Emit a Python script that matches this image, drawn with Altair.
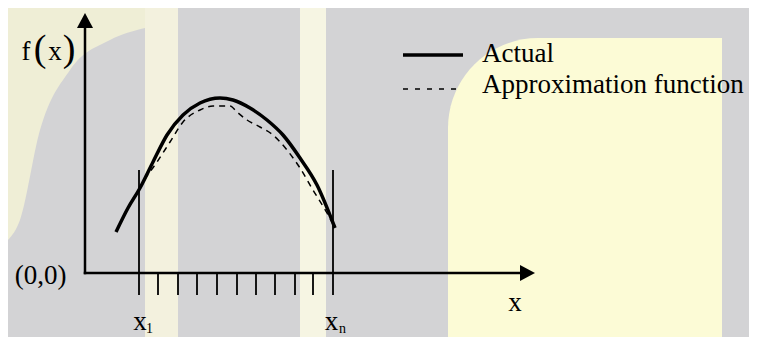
import altair as alt
import pandas as pd

# ---- data (origin of the diagram = (0,0)) ----
actual_x = [31, 43, 55, 68, 82, 98, 115, 135, 148, 165, 182, 198, 215, 232, 250]
actual_y = [41, 65, 85, 111, 138, 158, 170, 175, 173, 165, 153, 138, 115, 88, 45]

approx_x = [54, 58, 72, 85, 98, 115, 128, 145, 152, 162, 175, 188, 202, 215, 228, 242, 250]
approx_y = [84, 91, 111, 131, 151, 163, 167, 167, 161, 153, 146, 138, 123, 105, 83, 60, 45]

# nodes x1 .. xn on the x axis
node_x = [54, 73, 93, 112, 132, 152, 171, 190, 210, 228, 248]
node_bottom = -22
boundary_top = 103      # height of the x1 / xn boundary lines

x_axis_end = 436
y_axis_end = 246
x_arrow = 442.5
y_arrow = 252.5

legend_labels = ["Actual", "Approximation function"]
legend_y = [218, 184]
legend_line_x = [318, 378]
legend_text_x = 397

FONT = "Liberation Serif"

xs = alt.Scale(domain=[-77, 664], nice=False, zero=False)
ys = alt.Scale(domain=[-64, 265], nice=False, zero=False)


def X(f):
    return alt.X(f, type="quantitative", scale=xs, axis=None)


def Y(f):
    return alt.Y(f, type="quantitative", scale=ys, axis=None)


# ---- watermark-like background ----
bands = pd.DataFrame({
    "x0": [60, 215], "x1": [93, 241],
    "y0": [-64, -64], "y1": [265, 265],
    "c": ["#f3f1de", "#f6f5e3"],
})
band_layer = alt.Chart(bands).mark_rect().encode(
    x=X("x0"), x2="x1", y=Y("y0"), y2="y1",
    color=alt.Color("c:N", scale=None))

panel = pd.DataFrame({"x0": [363], "x1": [637], "y0": [-64], "y1": [235]})
panel_layer = alt.Chart(panel).mark_rect(
    color="#fcfbd6", cornerRadiusTopLeft=90).encode(
    x=X("x0"), x2="x1", y=Y("y0"), y2="y1")

left_x = [-77, -65, -45, -15, 25, 60]
left_y = [33, 53, 143, 203, 233, 245]
left = pd.DataFrame({"x": left_x, "y": left_y, "top": [265] * len(left_x)})
left_layer = alt.Chart(left).mark_area(color="#efeed6", interpolate="monotone").encode(
    x=X("x"), y=Y("y"), y2="top")

# ---- curves ----
act = pd.DataFrame({"x": actual_x, "y": actual_y})
apx = pd.DataFrame({"x": approx_x, "y": approx_y})

actual_layer = alt.Chart(act).mark_line(
    color="black", strokeWidth=3.5, interpolate="monotone").encode(
    x=X("x"), y=Y("y"))
approx_layer = alt.Chart(apx).mark_line(
    color="black", strokeWidth=1.5, strokeDash=[6, 5], interpolate="monotone").encode(
    x=X("x"), y=Y("y"))

# ---- axes (with arrows), node ticks ----
axes = pd.DataFrame({
    "x": [0, 0], "x2": [x_axis_end, 0],
    "y": [0, 0], "y2": [0, y_axis_end],
})
axes_layer = alt.Chart(axes).mark_rule(
    color="black", strokeWidth=2.5, strokeCap="square").encode(
    x=X("x"), x2="x2", y=Y("y"), y2="y2")

ticks = pd.DataFrame({
    "x": node_x,
    "y": [node_bottom] * len(node_x),
    "y2": [boundary_top if i in (0, len(node_x) - 1) else 0 for i in range(len(node_x))],
})
ticks_layer = alt.Chart(ticks).mark_rule(color="black", strokeWidth=1.8).encode(
    x=X("x"), y=Y("y"), y2="y2")

up = pd.DataFrame({"x": [0], "y": [y_arrow]})
right = pd.DataFrame({"x": [x_arrow], "y": [0]})
up_layer = alt.Chart(up).mark_point(
    shape="M0,-1L1.07,1L-1.07,1Z", filled=True, color="black",
    size=225, opacity=1, strokeWidth=0).encode(x=X("x"), y=Y("y"))
right_layer = alt.Chart(right).mark_point(
    shape="M1,0L-1,1.07L-1,-1.07Z", filled=True, color="black",
    size=225, opacity=1, strokeWidth=0).encode(x=X("x"), y=Y("y"))

# ---- legend ----
leg_solid = pd.DataFrame({"x": [legend_line_x[0]], "x2": [legend_line_x[1]], "y": [legend_y[0]]})
leg_dash = pd.DataFrame({"x": [legend_line_x[0]], "x2": [legend_line_x[1]], "y": [legend_y[1]]})
leg_solid_layer = alt.Chart(leg_solid).mark_rule(color="black", strokeWidth=3.5).encode(
    x=X("x"), x2="x2", y=Y("y"))
leg_dash_layer = alt.Chart(leg_dash).mark_rule(
    color="black", strokeWidth=1.5, strokeDash=[5, 7]).encode(
    x=X("x"), x2="x2", y=Y("y"))

leg_text = pd.DataFrame({
    "t": legend_labels,
    "x": [legend_text_x] * 2,
    "y": [legend_y[0] - 7, legend_y[1] - 4],
})
leg_text_layer = alt.Chart(leg_text).mark_text(
    align="left", baseline="alphabetic", font=FONT, fontSize=27, color="black").encode(
    x=X("x"), y=Y("y"), text="t:N")

# ---- other labels ----
labels = pd.DataFrame({
    "t": ["f", "(", "x", ")", "(0,0)", "x", "x", "1", "x", "n"],
    "x": [-59, -45, -30, -16, -44.5, 430, 55, 64.5, 246.5, 257.5],
    "y": [213, 212, 213, 212, -11, -38, -57, -60, -57, -60],
    "s": [27, 38, 27, 38, 27, 27, 27, 14, 27, 14],
})
labels_layer = alt.Chart(labels).mark_text(
    align="center", baseline="alphabetic", font=FONT, color="black").encode(
    x=X("x"), y=Y("y"), text="t:N", size=alt.Size("s:Q", scale=None))

chart = alt.layer(
    left_layer, band_layer, panel_layer,
    axes_layer, ticks_layer, up_layer, right_layer,
    approx_layer, actual_layer,
    leg_solid_layer, leg_dash_layer, leg_text_layer, labels_layer,
).properties(
    width=741, height=329, background="#d3d3d5", padding=0,
    autosize=alt.AutoSizeParams(type="none"),
).configure_view(strokeWidth=0)

chart.save("out.html", embed_options={"renderer": "svg", "actions": False})
